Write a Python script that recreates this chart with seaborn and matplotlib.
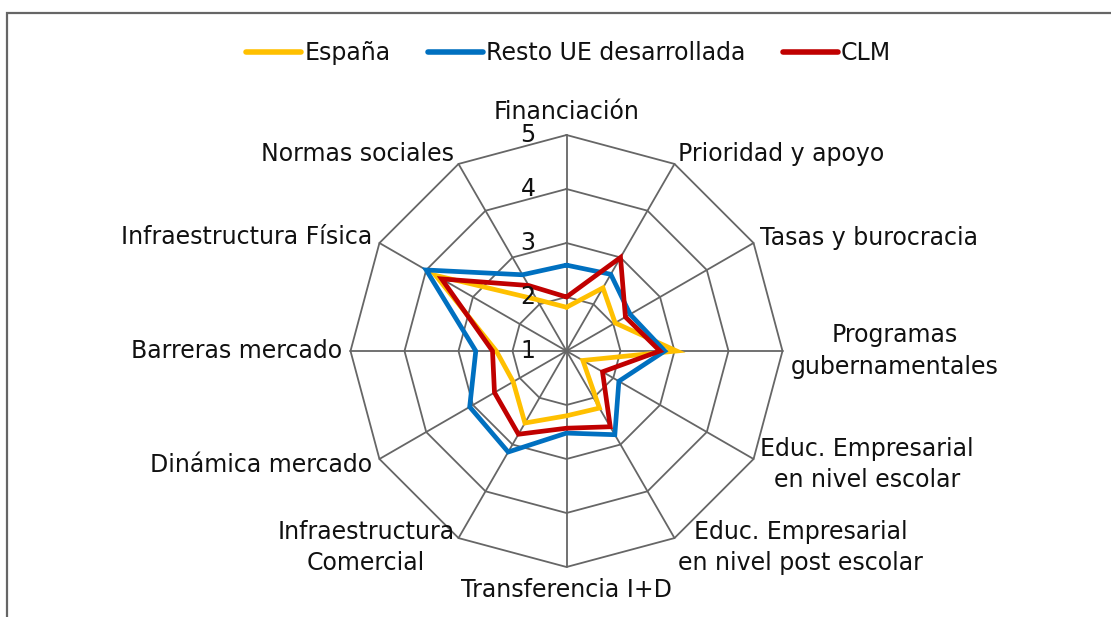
import numpy as np
import pandas as pd
import matplotlib
matplotlib.use("Agg")
import matplotlib.pyplot as plt
from matplotlib.lines import Line2D
from matplotlib.patches import Rectangle
import seaborn as sns

# ---- data ----
categories = ["Financiación", "Prioridad y apoyo", "Tasas y burocracia",
              "Programas\ngubernamentales", "Educ. Empresarial\nen nivel escolar",
              "Educ. Empresarial\nen nivel post escolar", "Transferencia I+D",
              "Infraestructura\nComercial", "Dinámica mercado", "Barreras mercado",
              "Infraestructura Física", "Normas sociales"]
espana = [1.81, 2.35, 2.04, 3.04, 1.35, 2.22, 2.20, 2.54, 2.14, 2.30, 3.80, 2.10]
resto_ue = [2.59, 2.64, 2.36, 2.82, 2.12, 2.79, 2.52, 3.16, 3.07, 2.68, 4.00, 2.63]
clm = [2.00, 3.00, 2.26, 2.73, 1.77, 2.62, 2.43, 2.78, 2.54, 2.37, 3.67, 2.40]
series_names = ["España", "Resto UE desarrollada", "CLM"]
series_colors = ["#FFC000", "#0070C0", "#C00000"]
ring_ticks = [1, 2, 3, 4, 5]

sns.set_theme(style="white")
plt.rcParams["font.family"] = ["DejaVu Sans"]
FS = 17
GRID = "#666666"
TXT = "#111111"

W, H = 1111, 617
fig = plt.figure(figsize=(W / 100, H / 100), dpi=100)
fig.patch.set_facecolor("white")

# outer chart frame (cut off at right and bottom like the reference)
fig.patches.append(Rectangle((7 / W, -0.1), 1.2, 1 - 13 / H + 0.1,
                             transform=fig.transFigure, fill=False,
                             edgecolor=GRID, linewidth=1.6))

# polar axes centred at (566, 351) px, radius 216 px
cx, cy, rad = 566.5, 351, 216
ax = fig.add_axes([(cx - rad) / W, (H - cy - rad) / H, 2 * rad / W, 2 * rad / H],
                  projection="polar")
ax.set_theta_offset(np.pi / 2)
ax.set_theta_direction(-1)
ax.set_ylim(ring_ticks[0], ring_ticks[-1])
ax.grid(False)
ax.set_xticks([])
ax.set_yticks([])
ax.spines["polar"].set_visible(False)
ax.patch.set_visible(False)

n = len(categories)
theta = np.arange(n) * 2 * np.pi / n
theta_closed = np.append(theta, theta[0])

# polygon grid
for r in ring_ticks[1:]:
    ax.plot(theta_closed, [r] * (n + 1), color=GRID, lw=1.3, clip_on=False, zorder=1)
for t in theta:
    ax.plot([t, t], [ring_ticks[0], ring_ticks[-1]], color=GRID, lw=1.3,
            clip_on=False, zorder=1)

# series
rows = []
for name, vals in zip(series_names, [espana, resto_ue, clm]):
    closed = list(vals) + [vals[0]]
    for i, (t, v) in enumerate(zip(theta_closed, closed)):
        rows.append({"serie": name, "theta": t, "valor": v, "idx": i})
df = pd.DataFrame(rows)
palette = dict(zip(series_names, series_colors))
for name in series_names:
    sub = df[df["serie"] == name]
    sns.lineplot(data=sub, x="theta", y="valor", color=palette[name], sort=False,
                 estimator=None, lw=3.4, ax=ax, legend=False, zorder=3)
    ax.lines[-1].set_solid_joinstyle("miter")
    ax.lines[-1].set_clip_on(False)
ax.set_xlabel("")
ax.set_ylabel("")

# ring value labels
for r in ring_ticks:
    ax.annotate(str(r), xy=(0, r), xytext=(-31, 0), textcoords="offset pixels",
                ha="right", va="center", fontsize=FS, color=TXT,
                annotation_clip=False, zorder=4)

# category labels
for t, lab in zip(theta, categories):
    s, c = np.sin(t), np.cos(t)
    if abs(s) < 0.01:
        ha = "center"
    elif s > 0:
        ha = "left"
    else:
        ha = "right"
    if c > 0.99:
        va = "bottom"
    elif c < -0.99:
        va = "top"
    else:
        va = "center"
    ax.annotate(lab, xy=(t, ring_ticks[-1]), xytext=(8 * s, 11 * c),
                textcoords="offset pixels", ha=ha, va=va, multialignment="center",
                linespacing=1.4, fontsize=FS, color=TXT, annotation_clip=False)

# legend
handles = [Line2D([0], [0], color=c, lw=4, solid_capstyle="round") for c in series_colors]
fig.legend(handles, series_names, loc="center", bbox_to_anchor=(0.512, 1 - 53 / H),
           ncol=3, frameon=False, fontsize=FS, handlelength=2.3, handletextpad=0.15,
           columnspacing=1.6, labelcolor=TXT)

fig.savefig("out.png", dpi=100)
